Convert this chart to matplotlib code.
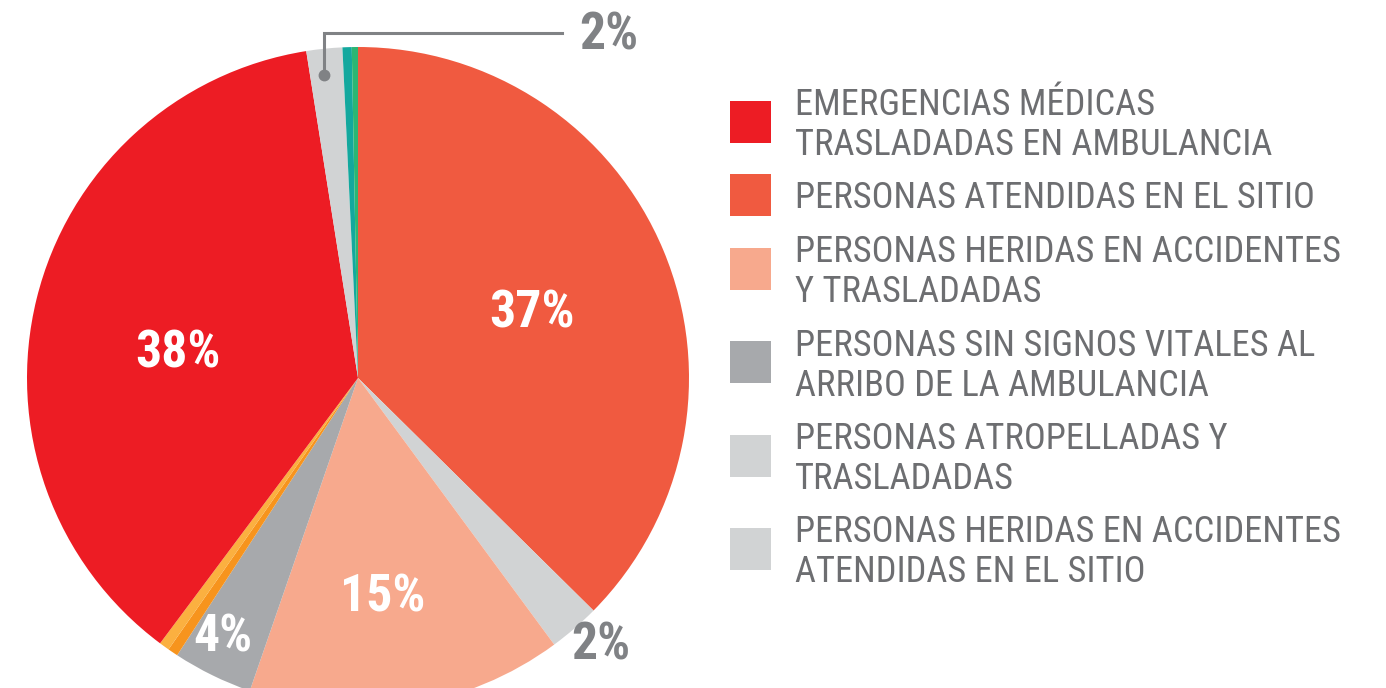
import matplotlib
matplotlib.use("Agg")
import matplotlib.pyplot as plt
from matplotlib.patches import Rectangle
from matplotlib import font_manager as fm

# slices, clockwise from the top
values = [37.4, 2.5, 15.4, 3.9, 0.5, 0.5, 37.3, 1.75, 0.45, 0.3]
colors = ['#F05A40', '#D1D3D4', '#F7A98D', '#A7A9AC', '#F7941D', '#FBB040',
          '#ED1C24', '#D1D3D4', '#13A89E', '#2BB673']

legend_labels = ['EMERGENCIAS MÉDICAS\nTRASLADADAS EN AMBULANCIA',
                 'PERSONAS ATENDIDAS EN EL SITIO',
                 'PERSONAS HERIDAS EN ACCIDENTES\nY TRASLADADAS',
                 'PERSONAS SIN SIGNOS VITALES AL\nARRIBO DE LA AMBULANCIA',
                 'PERSONAS ATROPELLADAS Y\nTRASLADADAS',
                 'PERSONAS HERIDAS EN ACCIDENTES\nATENDIDAS EN EL SITIO']
legend_colors = ['#ED1C24', '#F05A40', '#F7A98D', '#A7A9AC', '#D1D3D4', '#D1D3D4']


def pick_font(weight):
    # look for a narrow / condensed sans among installed fonts
    narrow = ('condensed', 'semi-condensed', 'extra-condensed', 'ultra-condensed')
    best = None
    for f in fm.fontManager.ttflist:
        if f.style != 'normal':
            continue
        nm = f.name.lower()
        score = None
        if 'liberation sans narrow' in nm:
            score = 0
        elif str(f.stretch) in narrow or 'condensed' in nm or 'narrow' in nm:
            if 'mono' in nm or 'serif' in nm and 'sans' not in nm:
                continue
            score = 1 if 'roboto' in nm or 'noto sans' in nm else 2
        if score is None:
            continue
        w = f.weight if isinstance(f.weight, int) else (700 if 'bold' in str(f.weight) else 400)
        key = (score, abs(w - weight))
        if best is None or key < best[0]:
            best = (key, f.fname)
    if best is None:
        return fm.FontProperties(family='DejaVu Sans', weight=weight)
    return fm.FontProperties(fname=best[1])


reg = pick_font(400)
bold = pick_font(700)

W, H = 1386, 688
fig = plt.figure(figsize=(W / 100, H / 100), dpi=100)
ax = fig.add_axes([0, 0, 1, 1])
renderer = fig.canvas.get_renderer()


def fit_size(text, fp, target_px):
    t = fig.text(0, 0, text, fontproperties=fp, fontsize=20)
    w = t.get_window_extent(renderer).width
    t.remove()
    return 20 * target_px / w


legend_size = fit_size('PERSONAS ATENDIDAS EN EL SITIO', reg, 520)
pct_size = fit_size('37%', bold, 85)

ax.pie(values, colors=colors, startangle=90, counterclock=False,
       center=(358, H - 378), radius=331, wedgeprops=dict(linewidth=0))
ax.set_xlim(0, W)
ax.set_ylim(0, H)
ax.set_aspect('equal')
ax.axis('off')

# percentage labels (pixel positions, y measured from top)
white = dict(color='white', fontproperties=bold, fontsize=pct_size, ha='center', va='baseline')
ax.text(532, H - 328, '37%', **white)
ax.text(178, H - 368, '38%', **white)
ax.text(383, H - 612, '15%', **white)
ax.text(223, H - 652, '4%', **white)

grey = dict(color='#808285', fontproperties=bold, fontsize=pct_size, ha='center', va='baseline')
ax.text(601, H - 660, '2%', **grey)
ax.text(609, H - 50, '2%', **grey)

# leader line for the small slice at the top
ax.plot([324, 324, 562], [H - 75, H - 33, H - 33], color='#808285', lw=2.2,
        solid_joinstyle='miter')
ax.plot([324], [H - 75], 'o', color='#808285', ms=7.5)

# legend
y0 = 115
for lab, col in zip(legend_labels, legend_colors):
    lines = lab.split('\n')
    n = len(lines)
    cy = y0 - 13.5 + (n - 1) * 20
    ax.add_patch(Rectangle((730, H - cy - 21), 41, 42, color=col, lw=0))
    for i, line in enumerate(lines):
        ax.text(795, H - (y0 + i * 40), line, color='#6D6E71', fontproperties=reg,
                fontsize=legend_size, ha='left', va='baseline')
    y0 += (n - 1) * 40 + 53.5

fig.savefig('out.png', dpi=100)
